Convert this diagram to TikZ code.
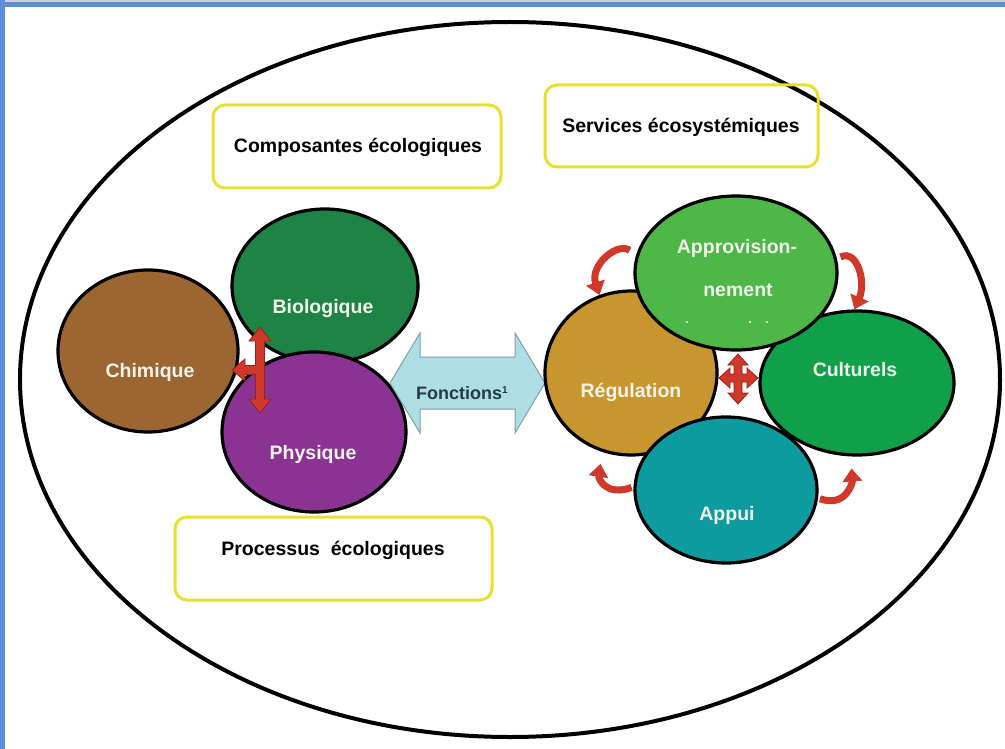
\documentclass[tikz,border=0pt]{standalone}
\usepackage{fontspec}
\setmainfont{Liberation Sans}
\usetikzlibrary{shapes.geometric,arrows.meta}
\definecolor{frameblue}{HTML}{5B8FD8}
\definecolor{chimcol}{HTML}{9C6633}
\definecolor{biocol}{HTML}{1E8446}
\definecolor{phycol}{HTML}{8B3393}
\definecolor{appcol}{HTML}{4DB848}
\definecolor{regcol}{HTML}{C8962E}
\definecolor{cultcol}{HTML}{10A04A}
\definecolor{appuicol}{HTML}{0E9BA0}
\definecolor{fonccol}{HTML}{AEDDE4}
\definecolor{foncline}{HTML}{7F9FA6}
\definecolor{fonctext}{HTML}{223B47}
\definecolor{boxyellow}{HTML}{E6E02E}
\definecolor{arrred}{HTML}{D0382A}
\definecolor{arrdark}{HTML}{9A2018}
\definecolor{lbltext}{HTML}{F4F4EC}
\newcommand\lblfont{\fontsize{19.5}{23}\selectfont\bfseries}
\begin{document}
\begin{tikzpicture}[x=1pt,y=-1pt,
  blob/.style={ellipse, draw=black, line width=3.2pt, inner sep=0pt},
  ybox/.style={draw=boxyellow, line width=3pt, rounded corners=12pt, inner sep=0pt},
  lbl/.style={text=lbltext, font=\lblfont, inner sep=0pt},
  boxtext/.style={text=black, font=\lblfont, inner sep=0pt},
  redshape/.style={fill=arrred, draw=arrdark, line width=0.8pt, line join=miter},
  curv/.style={draw=arrred, line width=7pt, -{Triangle[width=19pt,length=13pt]}}
]
\useasboundingbox (0,0) rectangle (1005,749);
% frame
\fill[frameblue] (0,0) rectangle (1005,7);
\fill[black!18] (0,0) rectangle (1005,2.5);
\fill[frameblue] (0,0) rectangle (5,749);
% big ellipse
\node[ellipse, draw=black, line width=4pt, inner sep=0pt, minimum width=980pt, minimum height=715pt] (world) at (510,379.5) {};
% yellow boxes
\node[ybox, minimum width=288pt, minimum height=83pt] (compbox) at (357,146.5) {};
\node[boxtext] (comptext) at (358,147) {Composantes écologiques};
\node[ybox, minimum width=273pt, minimum height=82pt] (servbox) at (681.5,126) {};
\node[boxtext] (servtext) at (681,127) {Services écosystémiques};
\node[ybox, minimum width=317pt, minimum height=83pt] (procbox) at (333.5,558.5) {};
\node[boxtext] (proctext) at (333,550) {Processus~ écologiques};
% left cluster
\node[blob, fill=biocol, minimum width=186pt, minimum height=154pt] (bio) at (325,286) {};
\node[blob, fill=phycol, minimum width=184pt, minimum height=160pt] (phy) at (314,432) {};
\node[blob, fill=chimcol, minimum width=180pt, minimum height=162pt] (chim) at (148,351) {};
\node[lbl] (biotext) at (323,309) {Biologique};
\node[lbl] (phytext) at (313,454) {Physique};
\node[lbl] (chimtext) at (150,372) {Chimique};
% red T-arrow
\draw[redshape] (260,327) -- (271,341) -- (264.5,341) -- (264.5,399) -- (271,399) -- (260,413)
  -- (249,399) -- (255.5,399) -- (255.5,374.5) -- (245,374.5) -- (245,381) -- (232,370)
  -- (245,359) -- (245,365.5) -- (255.5,365.5) -- (255.5,341) -- (249,341) -- cycle;
% Fonctions double arrow
\draw[fill=fonccol, draw=foncline, line width=1pt, line join=miter]
  (390,383) -- (420,333) -- (420,357) -- (515,357) -- (515,333) -- (545,383)
  -- (515,433) -- (515,409) -- (420,409) -- (420,433) -- cycle;
\node[text=fonctext, font=\fontsize{18}{21}\selectfont\bfseries, inner sep=0pt] (fonc) at (462,393) {Fonctions\raisebox{0.6ex}{\fontsize{10}{11}\selectfont 1}};
% right cluster
\node[blob, fill=regcol, minimum width=172pt, minimum height=164pt] (regul) at (631,373) {};
\node[blob, fill=cultcol, minimum width=194pt, minimum height=144pt] (cult) at (857,383) {};
\node[blob, fill=appcol, minimum width=202pt, minimum height=154pt] (appro) at (736,273) {};
\node[blob, fill=appuicol, minimum width=182pt, minimum height=146pt] (appui) at (726,490) {};
\node[lbl] (approtext1) at (737,248) {Approvision-};
\node[lbl] (approtext2) at (738,290) {nement};
\fill[lbltext] (687,322) circle (1.2pt) (750,322) circle (1.2pt) (767,322) circle (1.2pt);
\node[lbl] (regtext) at (631,392) {Régulation};
\node[lbl] (culttext) at (855,370) {Culturels};
\node[lbl] (appuitext) at (727,515) {Appui};
% red cross
\draw[redshape] (738,354) -- (748,365) -- (742,365) -- (742,374) -- (747,374) -- (747,368)
  -- (758,378) -- (747,388) -- (747,382) -- (742,382) -- (742,393) -- (748,393)
  -- (738,404) -- (728,393) -- (734,393) -- (734,382) -- (730,382) -- (730,388)
  -- (719,378) -- (730,368) -- (730,374) -- (734,374) -- (734,365) -- (728,365) -- cycle;
% curved arrows
\draw[curv, shorten <=8pt] (appro.170) .. controls +(-18,-14) and +(-10,-30) .. (regul.112);
\draw[curv, shorten <=4pt] (appro.8) .. controls +(20,-10) and +(12,-28) .. (cult.92);
\draw[curv, shorten <=2pt, shorten >=12pt] (appui.178) .. controls +(-28,10) and +(-4,26) .. (regul.250);
\draw[curv, shorten <=2pt, shorten >=12pt] (appui.-5) .. controls +(28,10) and +(2,26) .. (cult.265);
\end{tikzpicture}
\end{document}
